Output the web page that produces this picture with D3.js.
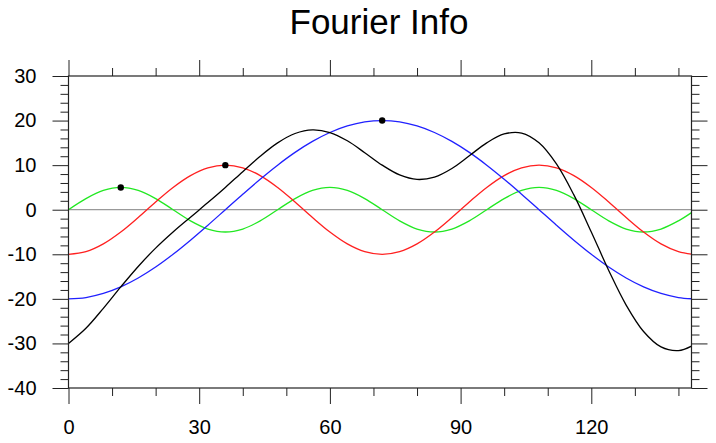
<!DOCTYPE html>
<html>
<head>
<meta charset="utf-8">
<script src="https://cdn.jsdelivr.net/npm/d3@7"></script>
<style>
  body { margin: 0; background: #fff; }
  text { font-family: "Liberation Sans", Arial, Helvetica, sans-serif; }
</style>
</head>
<body>
<div class="chart"></div>
<script>
const X_VALUES = [0, 4, 8, 12, 16, 20, 24, 28, 32, 36, 40, 44, 48, 52, 56, 60, 64, 68,
  72, 76, 80, 84, 88, 92, 96, 100, 104, 108, 112, 116, 120, 124, 128, 132, 136, 140, 143];

// first harmonic (blue)
const BLUE_VALUES = [-20, -19.7, -18.79, -17.32, -15.32, -12.86, -10, -6.84, -3.47, 0,
  3.47, 6.84, 10, 12.86, 15.32, 17.32, 18.79, 19.7, 20, 19.7, 18.79, 17.32, 15.32, 12.86,
  10, 6.84, 3.47, 0, -3.47, -6.84, -10, -12.86, -15.32, -17.32, -18.79, -19.7, -19.98];

// second harmonic (red)
const RED_VALUES = [-10, -9.4, -7.66, -5, -1.74, 1.74, 5, 7.66, 9.4, 10, 9.4, 7.66, 5,
  1.74, -1.74, -5, -7.66, -9.4, -10, -9.4, -7.66, -5, -1.74, 1.74, 5, 7.66, 9.4, 10, 9.4,
  7.66, 5, 1.74, -1.74, -5, -7.66, -9.4, -9.96];

// third harmonic (green)
const GREEN_VALUES = [0, 2.5, 4.33, 5, 4.33, 2.5, 0, -2.5, -4.33, -5, -4.33, -2.5, 0, 2.5,
  4.33, 5, 4.33, 2.5, 0, -2.5, -4.33, -5, -4.33, -2.5, 0, 2.5, 4.33, 5, 4.33, 2.5, 0, -2.5,
  -4.33, -5, -4.33, -2.5, -0.65];

// total (black)
const BLACK_VALUES = [-30, -26.6, -22.12, -17.32, -12.73, -8.62, -5, -1.68, 1.6, 5, 8.54,
  12, 15, 17.1, 17.91, 17.32, 15.46, 12.8, 10, 7.8, 6.8, 7.32, 9.25, 12.1, 15, 17, 17.2,
  15, 10.26, 3.32, -5, -13.62, -21.39, -27.32, -30.78, -31.6, -30.59];

// peak markers [x, y]
const PEAKS = [[12, 5], [36, 10], [72, 20]];

const X_TICKS = [0, 30, 60, 90, 120];
const Y_TICKS = [-40, -30, -20, -10, 0, 10, 20, 30];

const WIDTH = 716;
const HEIGHT = 443;
const MARGIN = { top: 76, right: 24.5, bottom: 55, left: 68.5 };
const MAJOR = 16;
const MINOR = 8;

const svg = d3.select(".chart").append("svg")
  .attr("width", WIDTH)
  .attr("height", HEIGHT);

const xScale = d3.scaleLinear().domain([0, 143])
  .range([MARGIN.left, WIDTH - MARGIN.right]);
const yScale = d3.scaleLinear().domain([-40, 30])
  .range([HEIGHT - MARGIN.bottom, MARGIN.top]);

svg.append("text")
  .attr("x", 379)
  .attr("y", 34)
  .attr("text-anchor", "middle")
  .attr("font-size", 35)
  .text("Fourier Info");

// zero line
svg.append("line")
  .attr("x1", xScale(0)).attr("x2", xScale(143))
  .attr("y1", yScale(0)).attr("y2", yScale(0))
  .attr("stroke", "#999").attr("stroke-width", 1.2);

const series = [
  { values: GREEN_VALUES, color: "#22e822" },
  { values: RED_VALUES, color: "#ff2020" },
  { values: BLUE_VALUES, color: "#2020ff" },
  { values: BLACK_VALUES, color: "#000" },
];

const line = d3.line()
  .x((d, i) => xScale(X_VALUES[i]))
  .y(d => yScale(d))
  .curve(d3.curveCatmullRom.alpha(0.5));

svg.append("g").attr("class", "lines")
  .selectAll("path")
  .data(series)
  .join("path")
  .attr("d", d => line(d.values))
  .attr("fill", "none")
  .attr("stroke", d => d.color)
  .attr("stroke-width", 1.3);

svg.append("g").attr("class", "peaks")
  .selectAll("circle")
  .data(PEAKS)
  .join("circle")
  .attr("cx", d => xScale(d[0]))
  .attr("cy", d => yScale(d[1]))
  .attr("r", 3.2)
  .attr("fill", "#000");

// axes: ticks point outward, NCL style
const xMinor = d3.range(0, 144, 10).filter(v => v % 30 !== 0);
const yMinor = d3.range(-40, 31, 2).filter(v => v % 10 !== 0);
const plainLabel = d => String(d); // keep the short hyphen minus

function styleAxis(g) {
  g.select(".domain").remove();
  g.selectAll(".tick line").attr("stroke", "#222").attr("stroke-width", 1);
  g.selectAll(".tick text").attr("fill", "#000").attr("font-size", 20)
    .attr("font-family", "Liberation Sans, Arial, sans-serif");
}

const plotBottom = yScale(-40);
const plotTop = yScale(30);
const plotLeft = xScale(0);
const plotRight = xScale(143);

// bottom
svg.append("g").attr("transform", `translate(0,${plotBottom})`)
  .call(d3.axisBottom(xScale).tickValues(xMinor).tickSize(MINOR).tickFormat(""))
  .call(styleAxis);
svg.append("g").attr("transform", `translate(0,${plotBottom})`)
  .call(d3.axisBottom(xScale).tickValues(X_TICKS).tickSize(MAJOR).tickPadding(16)
    .tickFormat(plainLabel))
  .call(styleAxis);
// top
svg.append("g").attr("transform", `translate(0,${plotTop})`)
  .call(d3.axisTop(xScale).tickValues(xMinor).tickSize(MINOR).tickFormat(""))
  .call(styleAxis);
svg.append("g").attr("transform", `translate(0,${plotTop})`)
  .call(d3.axisTop(xScale).tickValues(X_TICKS).tickSize(MAJOR).tickFormat(""))
  .call(styleAxis);
// left
svg.append("g").attr("transform", `translate(${plotLeft},0)`)
  .call(d3.axisLeft(yScale).tickValues(yMinor).tickSize(MINOR).tickFormat(""))
  .call(styleAxis);
svg.append("g").attr("transform", `translate(${plotLeft},0)`)
  .call(d3.axisLeft(yScale).tickValues(Y_TICKS).tickSize(MAJOR).tickPadding(16)
    .tickFormat(plainLabel))
  .call(styleAxis);
// right
svg.append("g").attr("transform", `translate(${plotRight},0)`)
  .call(d3.axisRight(yScale).tickValues(yMinor).tickSize(MINOR).tickFormat(""))
  .call(styleAxis);
svg.append("g").attr("transform", `translate(${plotRight},0)`)
  .call(d3.axisRight(yScale).tickValues(Y_TICKS).tickSize(MAJOR).tickFormat(""))
  .call(styleAxis);

// frame
svg.append("rect")
  .attr("x", plotLeft).attr("y", plotTop)
  .attr("width", plotRight - plotLeft)
  .attr("height", plotBottom - plotTop)
  .attr("fill", "none")
  .attr("stroke", "#222")
  .attr("stroke-width", 1.2);
</script>
</body>
</html>
